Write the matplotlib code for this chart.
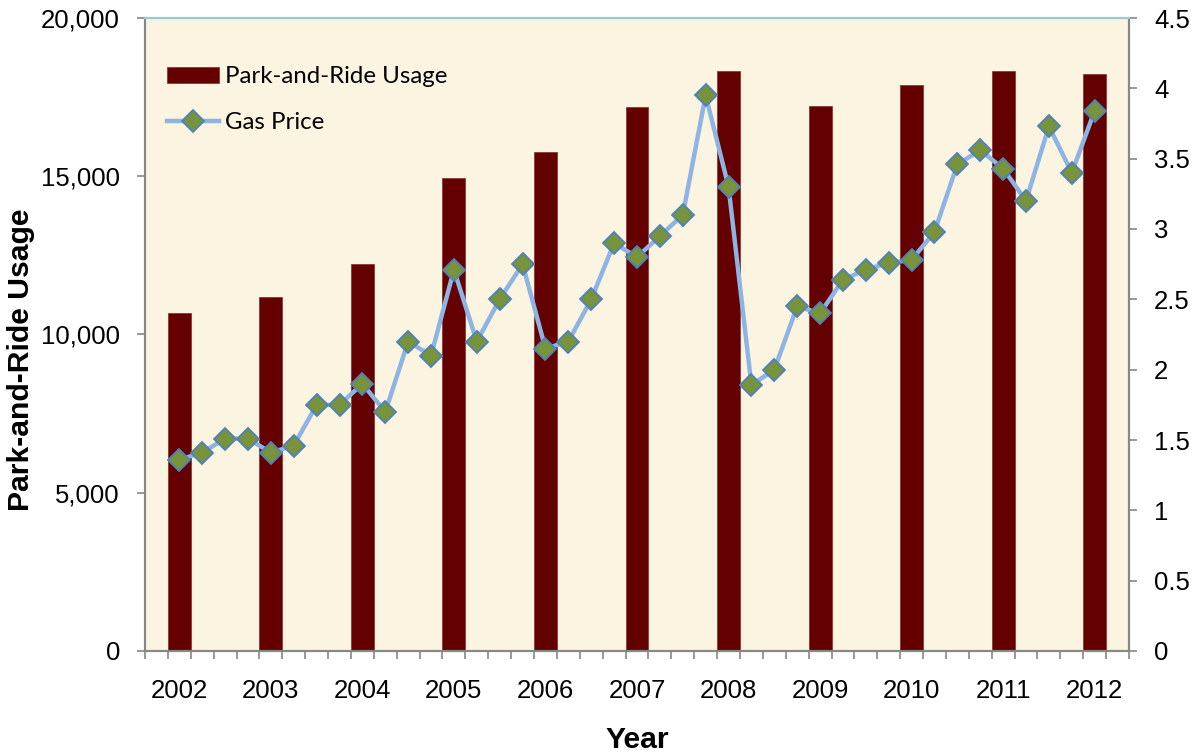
import matplotlib.pyplot as plt
from matplotlib.ticker import FuncFormatter, MultipleLocator
import numpy as np

# yearly park-and-ride usage, quarterly gas price
years = [2002, 2003, 2004, 2005, 2006, 2007, 2008, 2009, 2010, 2011, 2012]
usage = [10680, 11180, 12230, 14940, 15770, 17190, 18330, 17220, 17870, 18340, 18240]
gas_price = [1.36, 1.41, 1.51, 1.51,
             1.41, 1.46, 1.75, 1.75,
             1.90, 1.70, 2.20, 2.10,
             2.71, 2.20, 2.50, 2.75,
             2.15, 2.20, 2.50, 2.90,
             2.80, 2.95, 3.10, 3.95,
             3.30, 1.89, 2.00, 2.45,
             2.40, 2.64, 2.71, 2.76,
             2.78, 2.98, 3.46, 3.56,
             3.43, 3.20, 3.73, 3.40,
             3.84]

# one category slot per quarter, empty slot at each end
q = np.arange(len(gas_price)) + 1
bar_pos = q[::4]
n_slots = len(gas_price) + 2

tick_font = {'family': 'Liberation Sans', 'size': 18.5}
label_font = {'family': 'Liberation Sans', 'size': 21.7, 'weight': 'bold'}
gray = '#878787'

fig = plt.figure(figsize=(11.96, 7.52), dpi=100)
ax = fig.add_axes([145/1196, 101/752, 984/1196, 633/752])
ax.set_facecolor('#FAF4E0')

ax.bar(bar_pos, usage, width=1.0, color='#640000', edgecolor='#8a3a3a',
       linewidth=0.6, label='Park-and-Ride Usage', zorder=2)
ax.set_xlim(-0.5, n_slots - 0.5)
ax.set_ylim(0, 20000)
ax.yaxis.set_major_locator(MultipleLocator(5000))
ax.yaxis.set_major_formatter(FuncFormatter(lambda v, p: f'{int(v):,}'))

ax.set_xticks(bar_pos)
ax.set_xticklabels([str(y) for y in years])
ax.set_xticks(np.arange(n_slots + 1) - 0.5, minor=True)
ax.tick_params(axis='x', which='major', length=0, pad=20)
ax.tick_params(axis='x', which='minor', length=6, width=1.2, color=gray, direction='out')
ax.tick_params(axis='y', length=6, width=1.2, color=gray, direction='out', pad=12)
for lbl in ax.get_xticklabels() + ax.get_yticklabels():
    lbl.set_fontproperties(tick_font)

ax2 = ax.twinx()
ax2.plot(q, gas_price, color='#8DB4E2', linewidth=3.2, marker='D',
         markersize=11.2, markerfacecolor='#77933C', markeredgecolor='#4F81BD',
         markeredgewidth=1.3, label='Gas Price', zorder=3)
ax2.set_ylim(0, 4.5)
ax2.yaxis.set_major_locator(MultipleLocator(0.5))
ax2.yaxis.set_major_formatter(FuncFormatter(lambda v, p: f'{v:g}'))
ax2.tick_params(axis='y', length=6, width=1.2, color=gray, direction='out', pad=12)
for lbl in ax2.get_yticklabels():
    lbl.set_fontproperties(tick_font)

for a in (ax, ax2):
    for side in ('left', 'right', 'bottom'):
        a.spines[side].set_color(gray)
        a.spines[side].set_linewidth(1.5)
    a.spines['top'].set_color('#92CDDC')
    a.spines['top'].set_linewidth(1.5)

ax.set_ylabel('Park-and-Ride Usage', fontdict=label_font)
ax.yaxis.set_label_coords(-0.112, 0.46)
ax.set_xlabel('Year', fontdict=label_font)
ax.xaxis.set_label_coords(0.5, -0.118)

h1, l1 = ax.get_legend_handles_labels()
h2, l2 = ax2.get_legend_handles_labels()
ax2.legend(h1 + h2, l1 + l2, loc='upper left', bbox_to_anchor=(0.0, 0.958),
           frameon=False, prop={'family': 'Lato', 'size': 17.3},
           handlelength=2.2, handleheight=0.65, handletextpad=0.22, labelspacing=1.05)

fig.savefig('out.png', dpi=100)
